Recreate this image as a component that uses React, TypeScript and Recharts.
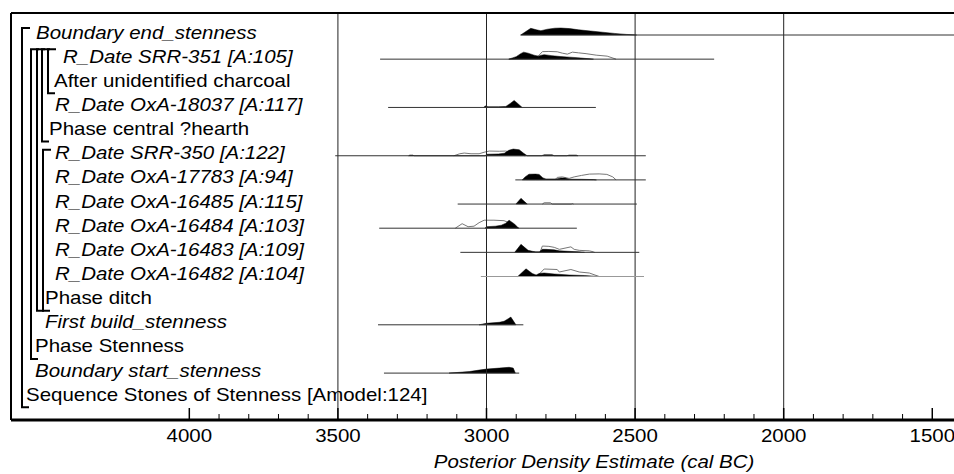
import React from "react";
import { ComposedChart, Area, Line, XAxis, YAxis, ReferenceLine } from "recharts";

// row labels, top to bottom
const rowLabels = [
  "Boundary end_stenness",
  "R_Date SRR-351 [A:105]",
  "After unidentified charcoal",
  "R_Date OxA-18037 [A:117]",
  "Phase central ?hearth",
  "R_Date SRR-350 [A:122]",
  "R_Date OxA-17783 [A:94]",
  "R_Date OxA-16485 [A:115]",
  "R_Date OxA-16484 [A:103]",
  "R_Date OxA-16483 [A:109]",
  "R_Date OxA-16482 [A:104]",
  "Phase ditch",
  "First build_stenness",
  "Phase Stenness",
  "Boundary start_stenness",
  "Sequence Stones of Stenness [Amodel:124]",
];
const rowItalic = [true, true, false, true, false, true, true, true, true, true, true, false, true, false, true, false];

// [year BC, relative density]
const postEnd = [[2885, 0], [2870, 3], [2851, 6.7], [2832, 5.2], [2817, 4.3], [2795, 5.8], [2770, 6.8], [2750, 7], [2720, 6.4], [2690, 5.2], [2650, 4], [2610, 2.8], [2570, 1.6], [2530, 0.6], [2495, 0]];
const postSRR351 = [[2925, 0], [2900, 2.5], [2885, 5.5], [2875, 7], [2860, 6], [2840, 4], [2826, 3], [2815, 4], [2806, 4.5], [2780, 3.5], [2750, 2.6], [2720, 2], [2695, 1.5], [2670, 0.8], [2650, 0.3], [2640, 0]];
const priorSRR351 = [[2925, 0], [2880, 1], [2840, 2.5], [2826, 3], [2812, 7.5], [2790, 7.7], [2762, 7.4], [2745, 6], [2728, 5], [2711, 7], [2690, 6.3], [2665, 5.5], [2631, 4], [2594, 3], [2564, 0]];
const postOxA18037 = [[3010, 0], [3004, 1.5], [2995, 0.7], [2960, 0.7], [2935, 1], [2920, 4], [2907, 7], [2895, 4], [2880, 0]];
const postSRR350 = [[3262, 0], [3258, 0.7], [3248, 0.7], [3244, 0], [3005, 0], [3000, 1.5], [2960, 1.8], [2940, 2.5], [2925, 5.5], [2910, 6.7], [2890, 6], [2875, 2.5], [2863, 0], [2815, 0], [2806, 1], [2779, 1], [2772, 0], [2730, 0], [2722, 0.7], [2698, 0.7], [2692, 0]];
const priorSRR350 = [[3110, 0], [3090, 2], [3075, 2.7], [3052, 2], [3025, 2], [3008, 3.5], [2991, 4.7], [2957, 4.5], [2935, 4.7], [2915, 3], [2890, 1], [2870, 0]];
const postOxA17783 = [[2880, 0], [2870, 3], [2857, 5.7], [2835, 5.8], [2823, 5.5], [2810, 2], [2800, 1], [2765, 1], [2750, 2], [2735, 1.8], [2722, 0.7], [2680, 0.6], [2640, 0.3], [2630, 0]];
const priorOxA17783 = [[2770, 0], [2762, 2.5], [2745, 3], [2722, 1.5], [2705, 3], [2680, 4.5], [2654, 5.8], [2621, 6], [2595, 5.5], [2575, 3], [2564, 0]];
const postOxA16485 = [[2901, 0], [2884, 5.7], [2863, 0]];
const priorOxA16485 = [[2812, 0], [2806, 1.3], [2785, 1.3], [2779, 0], [2715, 0], [2711, 0.5], [2707, 0]];
const postOxA16484 = [[3005, 0], [3000, 1.5], [2970, 2], [2950, 3], [2935, 5], [2924, 8], [2905, 4], [2892, 0]];
const priorOxA16484 = [[3105, 0], [3082, 4.5], [3062, 1.5], [3042, 2], [3025, 5.5], [3008, 8], [2975, 8], [2941, 7.5], [2920, 5], [2900, 1], [2890, 0]];
const postOxA16483 = [[2905, 0], [2884, 8], [2860, 2], [2845, 1], [2834, 0.5], [2822, 0.5], [2812, 3], [2800, 3], [2772, 2.5], [2755, 1.5], [2722, 1], [2690, 0.5], [2670, 0]];
const priorOxA16483 = [[2820, 0], [2812, 6.3], [2790, 6], [2772, 5], [2755, 3], [2716, 5.5], [2705, 3], [2688, 2], [2654, 1.5], [2640, 0.5], [2636, 0]];
const postOxA16482 = [[2895, 0], [2867, 7.7], [2846, 3], [2833, 1.5], [2823, 3], [2806, 3.5], [2772, 2.5], [2722, 1.5], [2671, 1], [2621, 0]];
const priorOxA16482 = [[2830, 0], [2806, 7.5], [2762, 7], [2755, 4.5], [2716, 7], [2688, 4.5], [2654, 3.5], [2621, 0]];
const postFirst = [[3025, 0], [3000, 1.5], [2957, 2.5], [2941, 3.5], [2918, 7.7], [2901, 0]];
const postStart = [[3126, 0], [3058, 1.5], [3025, 3], [3000, 4], [2957, 5], [2924, 5.8], [2910, 5], [2903, 0]];

// 95% ranges drawn as thin lines [from, to]
const ranges = [[2885, 1300], [3358, 2234], null, [3331, 2632], null, [3509, 2464], [2903, 2464], [3097, 2494], [3361, 2696], [3088, 2486], [3019, 2470], null, [3365, 2876], null, [3345, 2890], null];

const posts = [postEnd, postSRR351, null, postOxA18037, null, postSRR350, postOxA17783, postOxA16485, postOxA16484, postOxA16483, postOxA16482, null, postFirst, null, postStart, null];
const priors = [null, priorSRR351, null, null, null, priorSRR350, priorOxA17783, priorOxA16485, priorOxA16484, priorOxA16483, priorOxA16482, null, null, null, null, null];

const xTicks = [4000, 3900, 3800, 3700, 3600, 3500, 3400, 3300, 3200, 3100, 3000, 2900, 2800, 2700, 2600, 2500, 2400, 2300, 2200, 2100, 2000, 1900, 1800, 1700, 1600, 1500];
const gridYears = [3500, 3000, 2500, 2000];

// layout
const ROW0 = 35;
const ROW_H = 24.15;
const TOP = 13;
const BOTTOM = 420;
const yDomain = [(TOP - ROW0) / ROW_H, (BOTTOM - ROW0) / ROW_H];
const labelX = [36, 63, 54, 55, 49, 55, 55, 55, 55, 55, 55, 45, 45, 35, 35, 26];
const rowY = (i: number) => ROW0 + ROW_H * i;
const FONT = "'Liberation Sans', Arial, sans-serif";

// brackets: x, first row, last row
const brackets = [
  { x: 22, from: 0, to: 15, top: 7 },
  { x: 31, from: 1, to: 13, top: 10 },
  { x: 37, from: 1, to: 11, top: 10 },
  { x: 42, from: 1, to: 4, top: 10 },
  { x: 48, from: 1, to: 2, top: 10 },
  { x: 43, from: 5, to: 11, top: 6 },
];

const T = ({ x, y, children, italic = false, anchor = "start" }: any) => (
  <text
    transform={`translate(${x},${y}) scale(1.1,1)`}
    fontFamily={FONT}
    fontSize={18.6}
    fontStyle={italic ? "italic" : "normal"}
    textAnchor={anchor}
    fill="#000"
  >
    {children}
  </text>
);

const YLabel = (props: any) => {
  const i = props.payload.value;
  return (
    <T x={labelX[i]} y={props.y + 3.5} italic={rowItalic[i]}>
      {rowLabels[i]}
    </T>
  );
};

const XTick = (props: any) => {
  const { x, payload } = props;
  const v = payload.value;
  const major = v % 500 === 0;
  return (
    <g>
      <line x1={x} x2={x} y1={BOTTOM} y2={BOTTOM - (major ? 12 : 6)} stroke="#000" strokeWidth={major ? 1.5 : 1} />
      {major && (
        <T x={x} y={BOTTOM + 22} anchor="middle">
          {v}
        </T>
      )}
    </g>
  );
};

const Brackets = () => (
  <g stroke="#000" strokeWidth={2} fill="none">
    {brackets.map((b, k) => {
      const y1 = rowY(b.from) - b.top;
      const y2 = rowY(b.to) + 10;
      return <path key={k} d={`M${b.x + 8},${y1} H${b.x} V${y2} H${b.x + 7}`} />;
    })}
  </g>
);

const Title = () => (
  <T x={594} y={468} italic anchor="middle">
    Posterior Density Estimate (cal BC)
  </T>
);

const K = 1 / ROW_H;

export default function App() {
  return (
    <div style={{ position: "absolute", left: 0, top: 0, width: 954, height: 474, overflow: "hidden", background: "#fff" }}>
      <ComposedChart width={967} height={474} margin={{ top: TOP - 1, right: 5, left: 10, bottom: 0 }}>
        <XAxis
          type="number"
          dataKey="year"
          domain={[1400, 4600]}
          reversed
          allowDataOverflow
          ticks={xTicks}
          interval={0}
          tick={<XTick />}
          tickLine={false}
          tickSize={0}
          tickMargin={0}
          height={54}
          axisLine={{ stroke: "#000", strokeWidth: 3 }}
          label={<Title />}
        />
        <XAxis
          xAxisId="top"
          orientation="top"
          type="number"
          dataKey="year"
          domain={[1400, 4600]}
          reversed
          allowDataOverflow
          height={1}
          tick={false}
          tickLine={false}
          axisLine={{ stroke: "#000", strokeWidth: 2 }}
        />
        <YAxis
          type="number"
          domain={yDomain}
          reversed
          allowDataOverflow
          width={1}
          ticks={rowLabels.map((_, i) => i)}
          interval={0}
          tick={<YLabel />}
          tickLine={false}
          axisLine={{ stroke: "#000", strokeWidth: 2 }}
          label={<Brackets />}
        />
        {gridYears.map((g) => (
          <ReferenceLine key={g} x={g} stroke="#222" strokeWidth={1} />
        ))}
        {ranges.map((r, i) =>
          r ? (
            <Line
              key={"r" + i}
              data={[{ year: r[0], v: i }, { year: r[1], v: i }]}
              dataKey="v"
              stroke={i === 10 ? "#999" : "#333"}
              strokeWidth={1}
              dot={false}
              activeDot={false}
              isAnimationActive={false}
            />
          ) : null
        )}
        {priors.map((p, i) =>
          p ? (
            <Area
              key={"p" + i}
              data={p.map(([year, d]) => ({ year, v: i - d * K }))}
              dataKey="v"
              stroke="#777"
              strokeWidth={1}
              fill="none"
              dot={false}
              activeDot={false}
              isAnimationActive={false}
            />
          ) : null
        )}
        {posts.map((p, i) =>
          p ? (
            <Area
              key={"a" + i}
              data={p.map(([year, d]) => ({ year, v: [i, i - d * K] }))}
              dataKey="v"
              stroke="#000"
              strokeWidth={0.5}
              fill="#000"
              fillOpacity={1}
              dot={false}
              activeDot={false}
              isAnimationActive={false}
            />
          ) : null
        )}
      </ComposedChart>
    </div>
  );
}
